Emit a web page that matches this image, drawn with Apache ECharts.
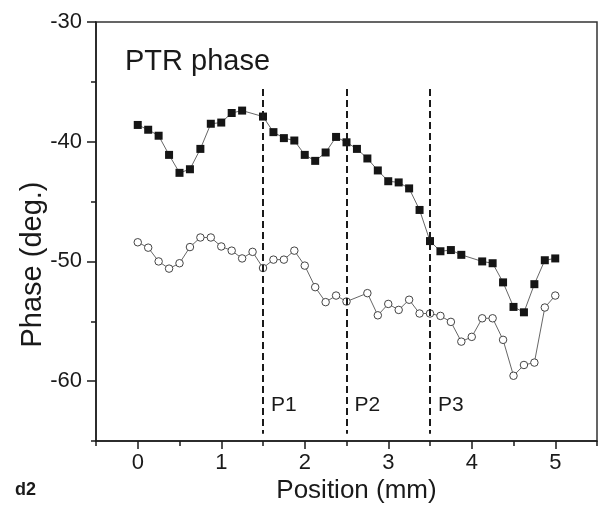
<!DOCTYPE html>
<html><head><meta charset="utf-8">
<script src="https://cdn.jsdelivr.net/npm/echarts@6/dist/echarts.min.js"></script>
<style>html,body{margin:0;padding:0;background:#fff}#c{width:605px;height:510px}</style>
</head><body><div id="c"></div>
<script>
const squareX = [0,0.125,0.25,0.375,0.5,0.625,0.75,0.875,1.0,1.125,1.25,1.5,1.625,1.75,1.875,2.0,2.125,2.25,2.375,2.5,2.625,2.75,2.875,3.0,3.125,3.25,3.375,3.5,3.625,3.75,3.875,4.125,4.25,4.375,4.5,4.625,4.75,4.875,5.0];
const squareY = [-38.6,-39.0,-39.5,-41.1,-42.6,-42.3,-40.6,-38.5,-38.4,-37.6,-37.4,-37.9,-39.2,-39.7,-39.9,-41.1,-41.6,-40.9,-39.6,-40.05,-40.6,-41.4,-42.4,-43.3,-43.4,-43.9,-45.7,-48.3,-49.15,-49.05,-49.45,-50.0,-50.15,-51.75,-53.8,-54.25,-51.9,-49.9,-49.75];
const circleX = [0,0.125,0.25,0.375,0.5,0.625,0.75,0.875,1.0,1.125,1.25,1.375,1.5,1.625,1.75,1.875,2.0,2.125,2.25,2.375,2.5,2.75,2.875,3.0,3.125,3.25,3.375,3.5,3.625,3.75,3.875,4.0,4.125,4.25,4.375,4.5,4.625,4.75,4.875,5.0];
const circleY = [-48.4,-48.85,-50.0,-50.6,-50.15,-48.8,-48.0,-48.0,-48.75,-49.1,-49.75,-49.2,-50.55,-49.85,-49.85,-49.1,-50.35,-52.15,-53.4,-52.85,-53.35,-52.65,-54.5,-53.55,-54.05,-53.2,-54.35,-54.35,-54.55,-55.05,-56.7,-56.3,-54.75,-54.75,-56.55,-59.55,-58.65,-58.45,-53.85,-52.85];
const boundaries = [1.5, 2.5, 3.5];
const boundaryLabels = ['P1', 'P2', 'P3'];
const xMajorTicks = [0,1,2,3,4,5];
const yMajorTicks = [-60,-50,-40,-30];
const chartTitle = 'PTR phase';
const panelLabel = 'd2';

const FONT = 'Liberation Sans, Arial, Helvetica, sans-serif';
const zip = (xs, ys) => xs.map((x, i) => [x, ys[i]]);
const chart = echarts.init(document.getElementById('c'), null, {renderer: 'canvas'});

const axisLineStyle = {color: '#1a1a1a', width: 1.5};
const option = {
  animation: false,
  backgroundColor: '#fff',
  grid: {left: 96, right: 8, top: 22, bottom: 69, show: true, borderColor: '#333', borderWidth: 1.5, backgroundColor: 'transparent'},
  xAxis: [
    {type: 'value', min: -0.5, max: 5.5, interval: 0.5, position: 'bottom',
     axisLine: {show: true, onZero: false, lineStyle: axisLineStyle},
     axisTick: {show: true, inside: false, length: 5, lineStyle: {color: '#1a1a1a', width: 1.5}},
     axisLabel: {show: false}, splitLine: {show: false}},
    {type: 'value', min: -0.5, max: 5.5, position: 'bottom',
     name: 'Position (mm)', nameLocation: 'middle', nameGap: 37, nameMoveOverlap: false,
     nameTextStyle: {fontFamily: FONT, fontSize: 26, color: '#1a1a1a', padding: [0, 0, 0, 20]},
     axisLine: {show: false, onZero: false},
     axisTick: {show: true, inside: false, length: 8, customValues: xMajorTicks, lineStyle: {color: '#1a1a1a', width: 1.5}},
     axisLabel: {show: true, customValues: xMajorTicks, margin: 11, fontFamily: FONT, fontSize: 22, color: '#1a1a1a'},
     splitLine: {show: false}}
  ],
  yAxis: [
    {type: 'value', min: -65, max: -30, interval: 5, position: 'left',
     axisLine: {show: true, onZero: false, lineStyle: axisLineStyle},
     axisTick: {show: true, inside: false, length: 5, lineStyle: {color: '#1a1a1a', width: 1.5}},
     axisLabel: {show: false}, splitLine: {show: false}},
    {type: 'value', min: -65, max: -30, position: 'left',
     name: 'Phase (deg.)', nameLocation: 'middle', nameGap: 49, nameRotate: 90, nameMoveOverlap: false,
     nameTextStyle: {fontFamily: FONT, fontSize: 29, color: '#1a1a1a', padding: [0, 66, 0, 0]},
     axisLine: {show: false, onZero: false},
     axisTick: {show: true, inside: false, length: 9, customValues: yMajorTicks, lineStyle: {color: '#1a1a1a', width: 1.5}},
     axisLabel: {show: true, customValues: yMajorTicks, margin: 14, fontFamily: FONT, fontSize: 22, color: '#1a1a1a'},
     splitLine: {show: false}}
  ],
  series: [
    {type: 'line', name: 'square', xAxisIndex: 0, yAxisIndex: 0, data: zip(squareX, squareY),
     symbol: 'rect', symbolSize: 8, itemStyle: {color: '#151515', borderColor: '#151515', borderWidth: 0},
     lineStyle: {color: '#555', width: 0.9}, z: 3,
     markLine: {silent: true, symbol: ['none', 'none'], animation: false,
       lineStyle: {color: '#1a1a1a', width: 2, type: [7, 4]}, label: {show: false},
       data: boundaries.map(b => [{coord: [b, -35.6]}, {coord: [b, -64.4]}])}},
    {type: 'line', name: 'circle', xAxisIndex: 0, yAxisIndex: 0, data: zip(circleX, circleY),
     symbol: 'circle', symbolSize: 7.5, showAllSymbol: true,
     itemStyle: {color: '#fff', borderColor: '#444', borderWidth: 1},
     lineStyle: {color: '#555', width: 0.9}, z: 3}
  ]
};
chart.setOption(option);

const gfx = [
  {type: 'text', left: 125, top: 47, style: {text: chartTitle, font: '29px ' + FONT, fill: '#1a1a1a'}},
  {type: 'text', left: 15, top: 481, style: {text: panelLabel, font: 'bold 18px ' + FONT, fill: '#1a1a1a'}}
];
boundaries.forEach((b, i) => {
  const p = chart.convertToPixel({xAxisIndex: 0, yAxisIndex: 0}, [b, -62.0]);
  gfx.push({type: 'text', x: p[0] + 8, y: p[1], style: {text: boundaryLabels[i], font: '21px ' + FONT, fill: '#1a1a1a', textVerticalAlign: 'middle'}});
});
chart.setOption({graphic: gfx});
</script></body></html>
